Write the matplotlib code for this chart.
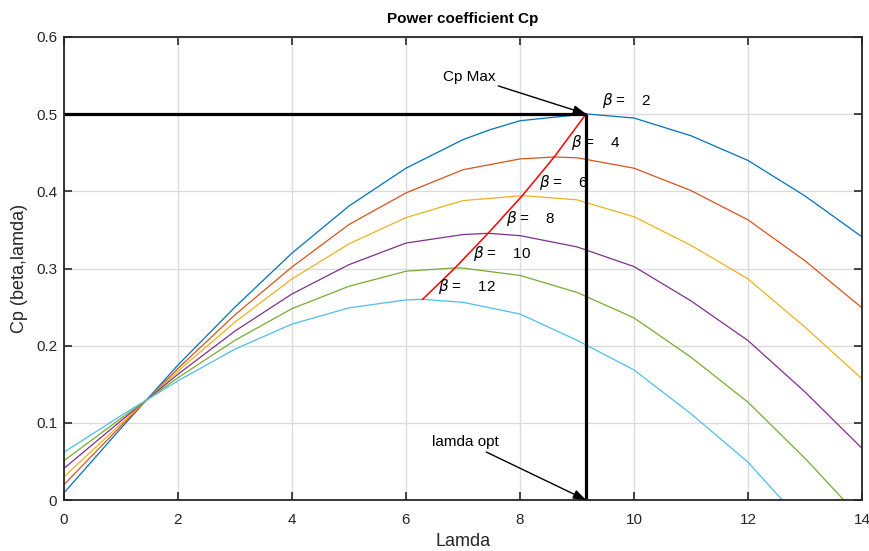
import matplotlib
matplotlib.use('Agg')
import matplotlib.pyplot as plt

plt.rcParams['font.family'] = ['Liberation Sans', 'DejaVu Sans']
plt.rcParams['mathtext.fontset'] = 'dejavusans'

# Cp curves, one per pitch angle beta
lam_b2 = [0, 1, 2, 3, 4, 5, 6, 7, 7.46, 8, 9.16, 10, 11, 12, 13, 14]
cp_b2 = [0.0093, 0.093, 0.175, 0.250, 0.320, 0.381, 0.430, 0.467, 0.4795, 0.4915, 0.5003,
         0.495, 0.472, 0.440, 0.394, 0.341]

lam_b4 = [0, 1, 2, 3, 4, 5, 6, 7, 8, 8.6, 9, 10, 11, 12, 13, 14]
cp_b4 = [0.020, 0.096, 0.1705, 0.240, 0.302, 0.357, 0.398, 0.428, 0.442, 0.4445,
         0.4435, 0.430, 0.401, 0.363, 0.310, 0.249]

lam_b6 = [0, 1, 2, 3, 4, 5, 6, 7, 8.04, 9, 10, 11, 12, 13, 14]
cp_b6 = [0.030, 0.099, 0.167, 0.2306, 0.2865, 0.332, 0.366, 0.388, 0.3944, 0.389,
         0.367, 0.330, 0.2865, 0.224, 0.157]

lam_b8 = [0, 1, 2, 3, 4, 5, 6, 7, 7.44, 8, 9, 10, 11, 12, 13, 14]
cp_b8 = [0.041, 0.1027, 0.163, 0.219, 0.267, 0.305, 0.333, 0.344, 0.3456, 0.3426,
         0.328, 0.3025, 0.258, 0.2066, 0.140, 0.067]

lam_b10 = [0, 1, 2, 3, 4, 5, 6, 6.86, 7, 8, 9, 10, 11, 12, 13, 13.68]
cp_b10 = [0.051, 0.1058, 0.1585, 0.207, 0.248, 0.277, 0.2965, 0.3008, 0.3005, 0.291,
          0.269, 0.236, 0.185, 0.1267, 0.054, 0.0]

lam_b12 = [0, 1, 2, 3, 4, 5, 6, 6.29, 7, 8, 9, 10, 11, 12, 12.6]
cp_b12 = [0.062, 0.1093, 0.1545, 0.1955, 0.228, 0.249, 0.2593, 0.260, 0.2562, 0.241,
          0.207, 0.1686, 0.1117, 0.049, 0.0]

# locus of the maxima (beta = 12 ... 2)
lam_opt = [6.29, 6.86, 7.44, 8.04, 8.60, 9.16]
cp_max = [0.260, 0.3008, 0.3456, 0.3944, 0.4445, 0.5003]

betas = [2, 4, 6, 8, 10, 12]
colors = ['#0072BD', '#D95319', '#EDB120', '#7E2F8E', '#77AC30', '#4DBEEE']
label_xy = [(9.44, 0.5175), (8.89, 0.4635), (8.33, 0.4117),
            (7.75, 0.3646), (7.18, 0.3197), (6.56, 0.277)]

fig = plt.figure(figsize=(8.69, 5.51), dpi=100)
ax = fig.add_axes([64 / 869, 1 - 500 / 551, (862 - 64) / 869, (500 - 37) / 551])

curves = [(lam_b2, cp_b2), (lam_b4, cp_b4), (lam_b6, cp_b6),
          (lam_b8, cp_b8), (lam_b10, cp_b10), (lam_b12, cp_b12)]
for (x, y), c in zip(curves, colors):
    ax.plot(x, y, color=c, lw=0.9)

ax.plot(lam_opt, cp_max, color='red', lw=1.1)

# Cp max / lamda opt guide lines
ax.plot([0, lam_opt[-1]], [cp_max[-1], cp_max[-1]], color='black', lw=2.3, solid_capstyle='butt')
ax.plot([lam_opt[-1], lam_opt[-1]], [cp_max[-1], 0], color='black', lw=2.3, solid_capstyle='butt',
        clip_on=False)

for b, (tx, ty) in zip(betas, label_xy):
    ax.text(tx, ty, r'$\beta$ =    %d' % b, fontsize=11, va='center', ha='left')

arrow = dict(arrowstyle='-|>,head_length=0.7,head_width=0.25', color='black', lw=1.0,
             shrinkA=0, shrinkB=0)
ax.annotate('Cp Max', xy=(lam_opt[-1], cp_max[-1]), xytext=(7.57, 0.5486),
            fontsize=11, ha='right', va='center', arrowprops=arrow)
ax.annotate('lamda opt', xy=(lam_opt[-1], 0), xytext=(7.05, 0.0749),
            fontsize=11, ha='center', va='center', arrowprops=arrow,
            annotation_clip=False)

ax.set_xlim(0, 14)
ax.set_ylim(0, 0.6)
ax.set_xticks(range(0, 15, 2))
ax.set_yticks([0, 0.1, 0.2, 0.3, 0.4, 0.5, 0.6])
ax.set_yticklabels(['0', '0.1', '0.2', '0.3', '0.4', '0.5', '0.6'])
ax.grid(True, color='#dcdcdc', lw=1.0)
ax.set_axisbelow(True)
ax.tick_params(direction='in', length=5.8, width=1.2, top=True, right=True,
               labelsize=11, colors='#262626', pad=5)
ax.tick_params(axis='x', pad=9)
for s in ax.spines.values():
    s.set_color('#262626')
    s.set_linewidth(1.3)

ax.set_xlabel('Lamda', fontsize=13, color='#262626', labelpad=5)
ax.set_ylabel('Cp (beta,lamda)', fontsize=13, color='#262626', labelpad=6)
ax.set_title('Power coefficient Cp', fontsize=11, fontweight='bold', pad=10)

fig.savefig('out.png', dpi=100)
